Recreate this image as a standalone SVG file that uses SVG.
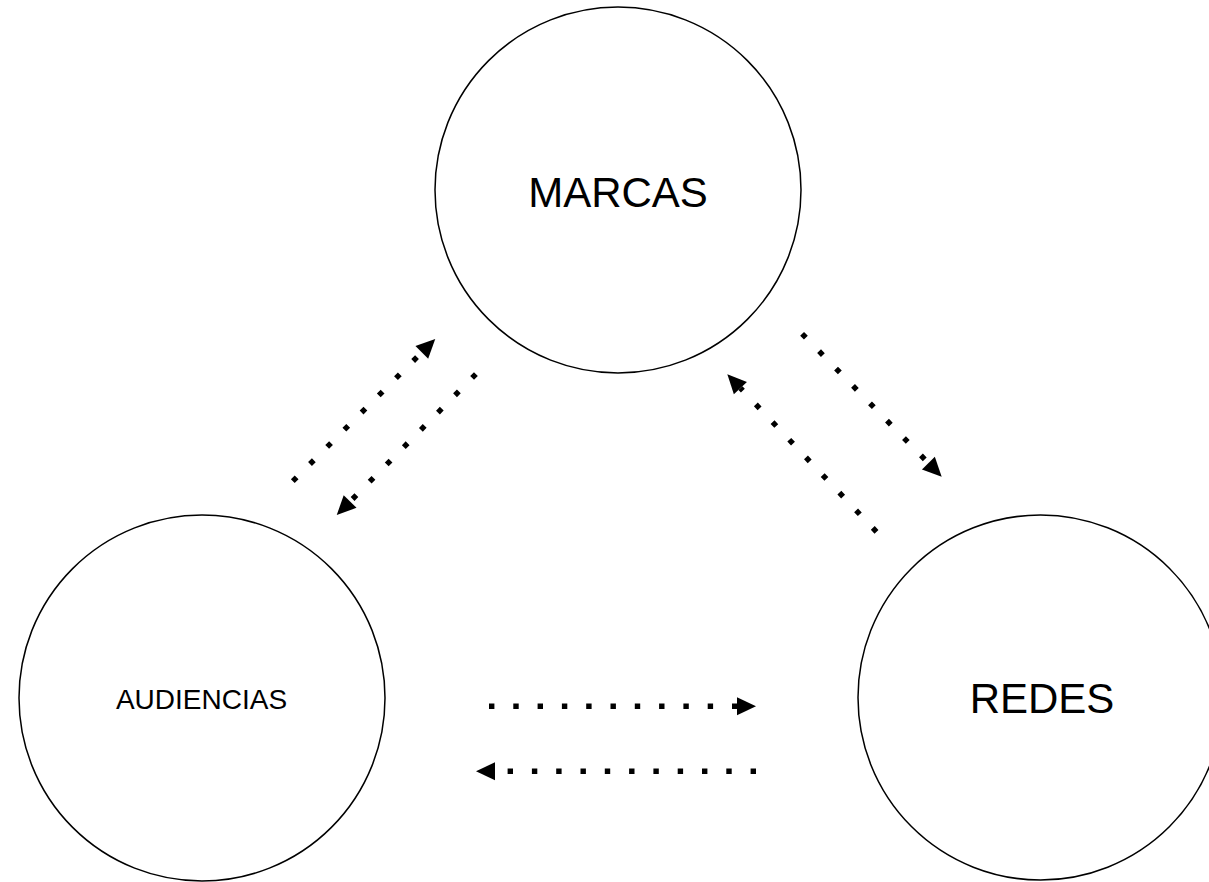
<svg xmlns="http://www.w3.org/2000/svg" width="1209" height="882" viewBox="0 0 1209 882">
<style>
.node circle{fill:#fff;stroke:#000;stroke-width:1.5}
.node text{font-family:"Liberation Sans",Arial,sans-serif;fill:#000;text-anchor:middle}
.conn line{stroke:#000;stroke-width:5.4;stroke-dasharray:5.4 18.9;stroke-linecap:butt;fill:none;marker-end:url(#ah)}
</style>
<defs>
<marker id="ah" markerUnits="userSpaceOnUse" markerWidth="19" markerHeight="18" refX="0" refY="9" orient="auto" overflow="visible">
<path d="M0,0 L19,9 L0,18 Z" fill="#000"/>
</marker>
</defs>
<rect width="1209" height="882" fill="#fff"/>
<g id="marcas" class="node">
<circle cx="618" cy="190" r="183"/>
<text x="618" y="207" font-size="42">MARCAS</text>
</g>
<g id="audiencias" class="node">
<circle cx="202" cy="698" r="183"/>
<text x="201.5" y="709" font-size="28">AUDIENCIAS</text>
</g>
<g id="redes" class="node">
<circle cx="1040.5" cy="697.5" r="182.5"/>
<text x="1042" y="713" font-size="42">REDES</text>
</g>
<g id="connectors" class="conn">
<line x1="292.8" y1="481.2" x2="421.8" y2="352.4"/>
<line x1="475.9" y1="374.1" x2="350.1" y2="501.5"/>
<line x1="802.1" y1="333.8" x2="928.4" y2="463.1"/>
<line x1="876.5" y1="531.9" x2="740.4" y2="388.1"/>
<line x1="489" y1="706.2" x2="737" y2="706.2"/>
<line x1="756" y1="771.2" x2="495" y2="771.2"/>
</g>
</svg>
